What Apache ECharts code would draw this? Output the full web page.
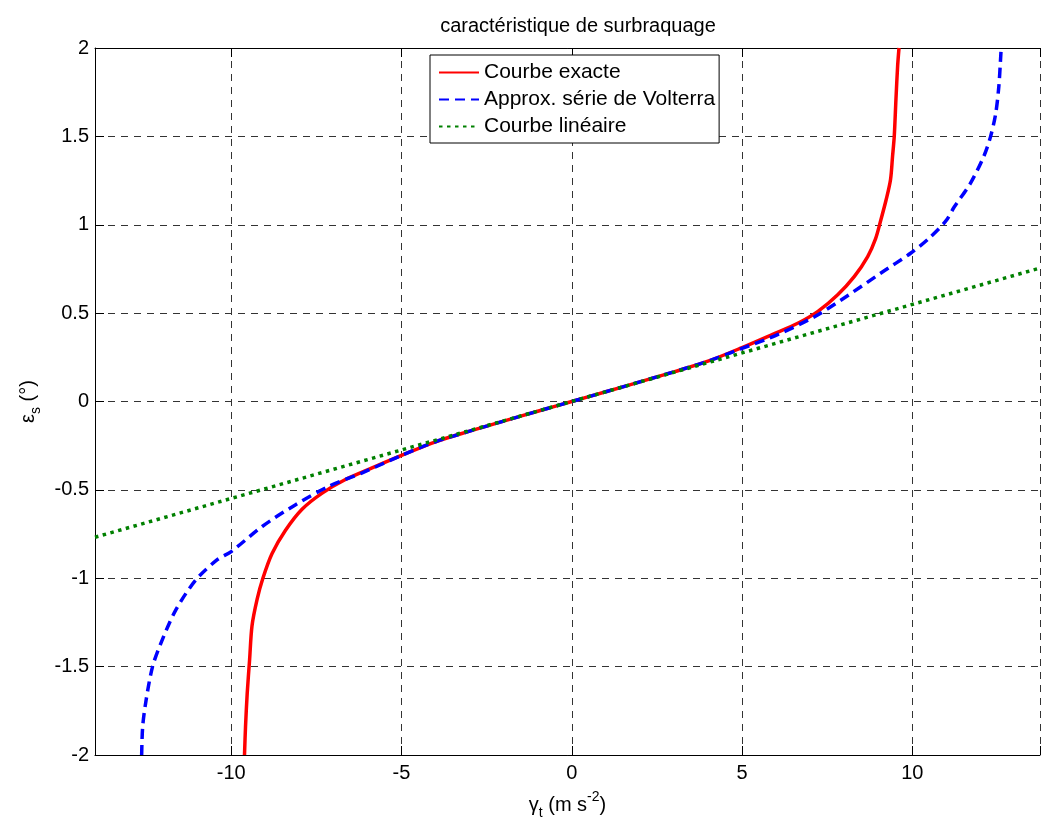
<!DOCTYPE html>
<html>
<head>
<meta charset="utf-8">
<script src="https://cdn.jsdelivr.net/npm/echarts@6/dist/echarts.min.js"></script>
<style>
  html, body { margin: 0; padding: 0; background: #fff; }
  #chart { width: 1043px; height: 825px; }
</style>
</head>
<body>
<div id="chart"></div>
<script>
// [gamma_t, epsilon_s]
var exactCurve = [
    [-9.61, -2.0], [-9.58, -1.84], [-9.53, -1.65], [-9.46, -1.46], [-9.39, -1.27],
    [-9.24, -1.12], [-9.07, -1.0], [-8.80, -0.86], [-8.41, -0.73], [-7.92, -0.61],
    [-7.34, -0.52], [-6.66, -0.443], [-5.88, -0.377], [-5.0, -0.305], [-4.0, -0.228],
    [-3.0, -0.168], [-2.0, -0.111], [-1.0, -0.055], [0, 0], [1.0, 0.055],
    [2.0, 0.111], [3.0, 0.168], [4.0, 0.228], [5.0, 0.305], [5.9, 0.38],
    [6.65, 0.444], [7.23, 0.51], [7.81, 0.604], [8.30, 0.708], [8.69, 0.82],
    [8.92, 0.92], [9.08, 1.03], [9.23, 1.14], [9.36, 1.255], [9.42, 1.387],
    [9.47, 1.50], [9.52, 1.71], [9.57, 1.90], [9.61, 2.0]
];
var volterraCurve = [
    [-12.63, -2.0], [-12.60, -1.84], [-12.50, -1.69], [-12.31, -1.50], [-12.07, -1.37],
    [-11.63, -1.18], [-11.04, -1.01], [-10.41, -0.895], [-10.0, -0.849], [-9.09, -0.707],
    [-8.12, -0.585], [-7.15, -0.481], [-6.17, -0.405], [-5.0, -0.305], [-4.0, -0.228],
    [-3.0, -0.168], [-2.0, -0.111], [-1.0, -0.055], [0, 0], [1.0, 0.055],
    [2.0, 0.111], [3.0, 0.168], [4.0, 0.228], [5.0, 0.30], [6.06, 0.38],
    [7.13, 0.48], [8.11, 0.60], [9.08, 0.727], [9.96, 0.84], [10.5, 0.925],
    [10.98, 1.02], [11.23, 1.10], [11.71, 1.236], [12.10, 1.387], [12.30, 1.50],
    [12.45, 1.63], [12.54, 1.78], [12.59, 1.93], [12.61, 2.0]
];
var linearCurve = [[-14, -0.768], [13.75, 0.755]];

var seriesNames = ['Courbe exacte', 'Approx. série de Volterra', 'Courbe linéaire'];
var xRange = [-14, 13.75];
var yRange = [-2, 2];

var fontName = 'Liberation Sans, Arial, sans-serif';
var gridDash = { color: '#333', type: [7, 6], width: 1 };

var chartDom = document.getElementById('chart');
var myChart = echarts.init(chartDom);

var option = {
    animation: false,
    backgroundColor: '#fff',
    textStyle: { fontFamily: fontName },
    title: {
        text: 'caractéristique de surbraquage',
        left: 573,
        top: 11,
        textAlign: 'center',
        textStyle: { fontSize: 20, fontWeight: 'normal', color: '#000', fontFamily: fontName }
    },
    legend: {
        data: seriesNames,
        orient: 'vertical',
        left: 430,
        top: 55,
        padding: [7, 4, 6, 8],
        itemWidth: 40,
        itemHeight: 14,
        itemGap: 6,
        borderColor: '#000',
        borderWidth: 1,
        backgroundColor: '#fff',
        selectedMode: false,
        // hide the marker dot, keep only the line sample
        itemStyle: { opacity: 0 },
        textStyle: { fontSize: 21, color: '#000', fontFamily: fontName }
    },
    grid: { left: 95, right: 0, top: 48, bottom: 70 },
    xAxis: [
        {
            type: 'value',
            min: xRange[0],
            max: xRange[1],
            name: '{g|γ}{sub|t}{n| (m s}{sup|-2}{n|)}',
            nameLocation: 'middle',
            nameGap: 35,
            nameTextStyle: {
                color: '#000',
                rich: {
                    g: { fontSize: 20, lineHeight: 30, fontFamily: fontName },
                    n: { fontSize: 20, lineHeight: 30, fontFamily: fontName },
                    sub: { fontSize: 14, verticalAlign: 'bottom', fontFamily: fontName },
                    sup: { fontSize: 14, verticalAlign: 'top', fontFamily: fontName }
                }
            },
            axisLine: { onZero: false, lineStyle: { color: '#000', width: 1 } },
            axisTick: { inside: true, length: 9, lineStyle: { color: '#000' } },
            axisLabel: {
                margin: 8, fontSize: 20, color: '#000',
                formatter: function (v) { return v % 5 === 0 ? String(v) : ''; }
            },
            splitLine: { show: true, lineStyle: gridDash }
        },
        {
            type: 'value',
            position: 'top',
            min: xRange[0],
            max: xRange[1],
            axisLine: { onZero: false, lineStyle: { color: '#000', width: 1 } },
            axisTick: { inside: true, length: 9, lineStyle: { color: '#000' } },
            axisLabel: { show: false },
            splitLine: { show: false }
        }
    ],
    yAxis: {
        type: 'value',
        min: yRange[0],
        max: yRange[1],
        interval: 0.5,
        name: '{g|ε}{sub|s}{n| (°)}',
        nameLocation: 'middle',
        nameGap: 52,
        nameTextStyle: {
            color: '#000',
            rich: {
                g: { fontSize: 20, lineHeight: 30, fontFamily: fontName },
                n: { fontSize: 20, lineHeight: 30, fontFamily: fontName },
                sub: { fontSize: 14, verticalAlign: 'bottom', fontFamily: fontName }
            }
        },
        axisLine: { onZero: false, lineStyle: { color: '#000', width: 1 } },
        axisTick: { inside: true, length: 9, lineStyle: { color: '#000' } },
        axisLabel: { margin: 6, fontSize: 20, color: '#000' },
        splitLine: { show: true, lineStyle: gridDash }
    },
    series: [
        {
            name: seriesNames[0],
            type: 'line',
            data: exactCurve,
            symbol: 'none',
            smooth: 0.3,
            color: '#ff0000',
            lineStyle: { color: '#ff0000', width: 3.5 }
        },
        {
            name: seriesNames[1],
            type: 'line',
            data: volterraCurve,
            symbol: 'none',
            smooth: 0.3,
            color: '#0000ff',
            lineStyle: { color: '#0000ff', width: 3.5, type: [10, 6] }
        },
        {
            name: seriesNames[2],
            type: 'line',
            data: linearCurve,
            symbol: 'none',
            color: '#008000',
            lineStyle: { color: '#008000', width: 3.5, type: [3.5, 4.5] }
        }
    ]
};

if (option && typeof option === 'object') {
    myChart.setOption(option);
}
</script>
</body>
</html>
